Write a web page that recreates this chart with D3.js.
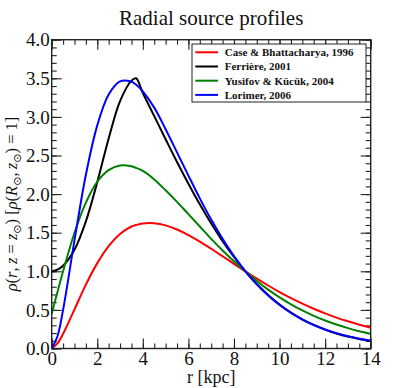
<!DOCTYPE html>
<html>
<head>
<meta charset="utf-8">
<script src="https://cdn.jsdelivr.net/npm/d3@7"></script>
<style>
body { margin: 0; background: #fff; }
text { font-family: "Liberation Serif", "DejaVu Serif", serif; fill: #111; }
</style>
</head>
<body>
<div class="chart"></div>
<script>
// radius samples [kpc]
var radius = [0, 0.25, 0.5, 1, 1.5, 2, 2.5, 3, 3.5, 3.7, 4, 4.5, 5, 5.5, 6, 6.5, 7, 7.5, 8, 8.5,
  9, 9.5, 10, 10.5, 11, 11.5, 12, 12.5, 13, 13.5, 14];

// source density, normalised to 1 at the sun
var caseBhat = [0, 0.065, 0.191, 0.507, 0.828, 1.106, 1.327, 1.484, 1.580, 1.600, 1.620, 1.622, 1.595, 1.542,
  1.470, 1.385, 1.292, 1.195, 1.097, 1.0, 0.906, 0.816, 0.731, 0.653, 0.581, 0.515, 0.455, 0.400, 0.352, 0.308, 0.269];
var ferriere = [0.997, 1.021, 1.072, 1.280, 1.647, 2.155, 2.721, 3.205, 3.470, 3.500, 3.310, 3.010, 2.710, 2.415,
  2.135, 1.867, 1.619, 1.391, 1.185, 1.0, 0.836, 0.694, 0.571, 0.466, 0.378, 0.305, 0.244, 0.195, 0.155, 0.124, 0.098];
var yusifov = [0.45, 0.73, 1.00, 1.50, 1.89, 2.16, 2.31, 2.37, 2.36, 2.34, 2.30, 2.19, 2.05, 1.90,
  1.74, 1.58, 1.42, 1.27, 1.13, 1.0, 0.875, 0.762, 0.662, 0.572, 0.493, 0.423, 0.363, 0.310, 0.264, 0.224, 0.191];
var lorimer = [0, 0.155, 0.50, 1.40, 2.25, 2.89, 3.29, 3.46, 3.455, 3.42, 3.33, 3.12, 2.84, 2.54,
  2.24, 1.945, 1.67, 1.42, 1.196, 1.0, 0.831, 0.686, 0.563, 0.461, 0.375, 0.304, 0.246, 0.198, 0.159, 0.127, 0.102];

var seriesNames = ["Case & Bhattacharya, 1996", "Ferrière, 2001", "Yusifov & Kücük, 2004", "Lorimer, 2006"];
var seriesColors = ["#ff0000", "#000000", "#008000", "#0000ff"];
var seriesValues = [caseBhat, ferriere, yusifov, lorimer];

var xTicks = [0, 2, 4, 6, 8, 10, 12, 14];
var yTicks = [0, 0.5, 1, 1.5, 2, 2.5, 3, 3.5, 4];

// plot dimensions
var svgWidth = 413;
var svgHeight = 388;
var margin = { top: 39.7, right: 42.3, bottom: 39.5, left: 51.7 };
var width = svgWidth - margin.left - margin.right;
var height = svgHeight - margin.top - margin.bottom;

var svg = d3.select(".chart")
  .append("svg")
  .attr("width", svgWidth)
  .attr("height", svgHeight);

svg.append("rect")
  .attr("width", svgWidth)
  .attr("height", svgHeight)
  .attr("fill", "#fff");

var chartGroup = svg.append("g")
  .attr("transform", `translate(${margin.left}, ${margin.top})`);

var xScale = d3.scaleLinear().domain([0, 14]).range([0, width]);
var yScale = d3.scaleLinear().domain([0, 4]).range([height, 0]);

var xMinor = d3.range(0, 14.01, 0.5);
var yMinor = d3.range(0, 4.001, 0.1);

// inward ticks on all four sides
function tickAxis(axis, values, size, labels) {
  axis.tickValues(values).tickSizeInner(-size).tickSizeOuter(0);
  if (!labels) axis.tickFormat("");
  return axis;
}

function drawAxis(axis, transform) {
  var g = chartGroup.append("g")
    .attr("transform", transform)
    .call(axis);
  g.select(".domain").remove();
  g.selectAll("line").attr("stroke", "#222").attr("stroke-width", 1.1);
  return g;
}

drawAxis(tickAxis(d3.axisBottom(xScale), xMinor, 5, false), `translate(0, ${height})`);
drawAxis(tickAxis(d3.axisTop(xScale), xMinor, 5, false), "translate(0, 0)");
drawAxis(tickAxis(d3.axisLeft(yScale), yMinor, 5, false), "translate(0, 0)");
drawAxis(tickAxis(d3.axisRight(yScale), yMinor, 5, false), `translate(${width}, 0)`);
drawAxis(tickAxis(d3.axisTop(xScale), xTicks, 10, false), "translate(0, 0)");
drawAxis(tickAxis(d3.axisRight(yScale), yTicks, 10, false), `translate(${width}, 0)`);

var xAxis = drawAxis(tickAxis(d3.axisBottom(xScale), xTicks, 10, true).tickFormat(d3.format("d")),
  `translate(0, ${height})`);
xAxis.selectAll("text")
  .attr("y", 16)
  .attr("dy", 0)
  .style("font-size", "19px")
  .style("font-family", "'Liberation Serif', serif");

var yAxis = drawAxis(tickAxis(d3.axisLeft(yScale), yTicks, 10, true).tickFormat(d3.format(".1f")),
  "translate(0, 0)");
yAxis.selectAll("text")
  .attr("x", -2)
  .attr("dy", "0.33em")
  .style("font-size", "19px")
  .style("font-family", "'Liberation Serif', serif");

// curves
var line = d3.line()
  .x((d, i) => xScale(radius[i]))
  .y(d => yScale(d))
  .curve(d3.curveCatmullRom.alpha(0.5));

chartGroup.append("clipPath").attr("id", "plotclip")
  .append("rect").attr("width", width).attr("height", height);

chartGroup.append("g")
  .attr("clip-path", "url(#plotclip)")
  .selectAll("path")
  .data(seriesValues)
  .enter()
  .append("path")
  .attr("d", d => line(d))
  .attr("fill", "none")
  .attr("stroke", (d, i) => seriesColors[i])
  .attr("stroke-width", 2);

// frame
chartGroup.append("rect")
  .attr("width", width)
  .attr("height", height)
  .attr("fill", "none")
  .attr("stroke", "#222")
  .attr("stroke-width", 1.4);

// legend
var legend = chartGroup.append("g")
  .attr("transform", "translate(140.3, 4.3)");

legend.append("rect")
  .attr("width", 174)
  .attr("height", 58)
  .attr("fill", "#fff")
  .attr("stroke", "#222")
  .attr("stroke-width", 1);

var legendRows = legend.selectAll("g.row")
  .data(seriesNames)
  .enter()
  .append("g")
  .attr("class", "row")
  .attr("transform", (d, i) => `translate(0, ${8.3 + i * 14.2})`);

legendRows.append("line")
  .attr("x1", 3.3)
  .attr("x2", 26)
  .attr("stroke", (d, i) => seriesColors[i])
  .attr("stroke-width", 2);

legendRows.append("text")
  .attr("x", 32.7)
  .attr("dy", "0.35em")
  .style("font-size", "11px")
  .style("font-weight", "bold")
  .text(d => d);

// title
svg.append("text")
  .attr("x", margin.left + width / 2)
  .attr("y", 25)
  .attr("text-anchor", "middle")
  .style("font-size", "21px")
  .text("Radial source profiles");

// x label
svg.append("text")
  .attr("x", margin.left + width / 2)
  .attr("y", 383)
  .attr("text-anchor", "middle")
  .style("font-size", "18px")
  .text("r [kpc]");

// y label with math
var yLabel = svg.append("text")
  .attr("transform", "translate(17, 204) rotate(-90)")
  .attr("text-anchor", "middle")
  .style("font-size", "16.5px");

var parts = [
  ["ρ", "i"], ["(", "n"], ["r", "i"], [",\u2009", "n"], ["z", "i"], [" = ", "n"], ["z", "i"], ["⊙", "s"],
  [") [", "n"], ["ρ", "i"], ["(", "n"], ["R", "i"], ["⊙", "s"], [",\u2009", "n"], ["z", "i"], ["⊙", "s"],
  [") = 1]", "n"]
];
var shifted = false;
parts.forEach(p => {
  var t = yLabel.append("tspan").text(p[0]);
  if (p[1] === "i") t.style("font-style", "italic");
  if (p[1] === "s") {
    t.style("font-size", "11px").style("font-family", "'DejaVu Sans', sans-serif").attr("dy", 4);
    shifted = true;
  } else if (shifted) {
    t.attr("dy", -4);
    shifted = false;
  }
});
</script>
</body>
</html>
